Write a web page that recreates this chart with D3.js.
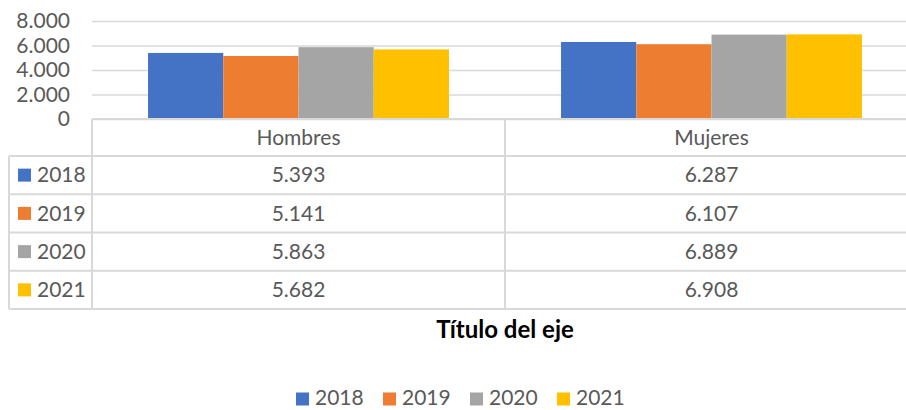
<!DOCTYPE html>
<html>
<head>
<meta charset="utf-8">
<script src="https://cdn.jsdelivr.net/npm/d3@7"></script>
<style>
	body { margin: 0; background: #fff; }
	text { font-family: Lato, "Open Sans", sans-serif; fill: #595959; }
</style>
</head>
<body>
<div id="chart"></div>
<script>
const categories = ["Hombres", "Mujeres"];
const years = ["2018", "2019", "2020", "2021"];
const values = {
	"2018": [5393, 6287],
	"2019": [5141, 6107],
	"2020": [5863, 6889],
	"2021": [5682, 6908],
};
const y_ticks = [0, 2000, 4000, 6000, 8000];
const axis_title = "Título del eje";

const width = 906;
const height = 410;
const colors = ["#4472c4", "#ed7d31", "#a5a5a5", "#ffc000"];
const grid_color = "#d9d9d9";
const font_size = 21;

const es = d3.formatLocale({ decimal: ",", thousands: ".", grouping: [3], currency: ["", "€"] });
const fmt = es.format(",d");

const svg = d3
	.select("#chart")
	.append("svg")
	.attr("width", width)
	.attr("height", height);

// plot area
const plot = { left: 92, right: 918, top: 21, bottom: 119 };
const table_left = 9;
const table_bottom = 309;

const x0 = d3.scaleBand().domain(categories).range([plot.left, plot.right]);
const x1 = d3
	.scaleBand()
	.domain(years)
	.range([0, x0.bandwidth()])
	.paddingInner(0)
	.paddingOuter(0.745);
const y = d3.scaleLinear().domain([0, 8000]).range([plot.bottom, plot.top]);
const color = d3.scaleOrdinal().domain(years).range(colors);

// gridlines + y labels
const yAxis = svg
	.append("g")
	.attr("transform", `translate(${plot.left}, 0)`)
	.call(
		d3
			.axisLeft(y)
			.tickValues(y_ticks)
			.tickSize(-(width - plot.left))
			.tickPadding(22)
			.tickFormat(fmt)
	);
yAxis.select(".domain").remove();
yAxis.selectAll(".tick line").attr("stroke", grid_color).attr("stroke-width", 1.5);
yAxis
	.selectAll(".tick text")
	.attr("font-family", null)
	.style("font-size", font_size + "px")
	.style("fill", "#595959");

// bars
const bars = [];
years.forEach((yr) => {
	categories.forEach((c, i) => {
		bars.push({ year: yr, cat: c, value: values[yr][i] });
	});
});

svg
	.selectAll(".bar")
	.data(bars)
	.join("rect")
	.attr("class", "bar")
	.attr("x", (d) => x0(d.cat) + x1(d.year))
	.attr("y", (d) => y(d.value))
	.attr("width", x1.bandwidth())
	.attr("height", (d) => y(0) - y(d.value))
	.attr("fill", (d) => color(d.year));

// data table
const rows = d3.scaleBand().domain(years).range([156, table_bottom]);
const table = svg.append("g").attr("stroke", grid_color).attr("stroke-width", 2);

table
	.append("line")
	.attr("x1", plot.left)
	.attr("x2", width)
	.attr("y1", y(0))
	.attr("y2", y(0));
years.forEach((yr) => {
	table
		.append("line")
		.attr("x1", table_left)
		.attr("x2", width)
		.attr("y1", rows(yr))
		.attr("y2", rows(yr));
});
table
	.append("line")
	.attr("x1", table_left)
	.attr("x2", width)
	.attr("y1", table_bottom)
	.attr("y2", table_bottom);
table
	.append("line")
	.attr("x1", table_left)
	.attr("x2", table_left)
	.attr("y1", rows(years[0]))
	.attr("y2", table_bottom);
categories.forEach((c) => {
	table
		.append("line")
		.attr("x1", x0(c))
		.attr("x2", x0(c))
		.attr("y1", y(0))
		.attr("y2", table_bottom);
});

// header row
svg
	.selectAll(".cat_label")
	.data(categories)
	.join("text")
	.attr("class", "cat_label")
	.attr("x", (d) => x0(d) + x0.bandwidth() / 2)
	.attr("y", (y(0) + rows(years[0])) / 2)
	.attr("dy", "0.35em")
	.attr("text-anchor", "middle")
	.style("font-size", font_size + "px")
	.text((d) => d);

// row labels with keys
years.forEach((yr, j) => {
	const cy = rows(yr) + rows.bandwidth() / 2;
	svg
		.append("rect")
		.attr("x", 18)
		.attr("y", cy - 6.5)
		.attr("width", 13)
		.attr("height", 13)
		.attr("fill", color(yr));
	svg
		.append("text")
		.attr("x", 37)
		.attr("y", cy)
		.attr("dy", "0.35em")
		.style("font-size", font_size + "px")
		.text(yr);
	categories.forEach((c, i) => {
		svg
			.append("text")
			.attr("x", x0(c) + x0.bandwidth() / 2)
			.attr("y", cy)
			.attr("dy", "0.35em")
			.attr("text-anchor", "middle")
			.style("font-size", font_size + "px")
			.text(fmt(values[yr][i]));
	});
});

// axis title
svg
	.append("text")
	.attr("x", 505)
	.attr("y", 338)
	.attr("text-anchor", "middle")
	.style("font-size", "24px")
	.style("font-weight", "bold")
	.style("fill", "#000")
	.text(axis_title);

// legend
const legend = svg
	.selectAll(".legend")
	.data(years)
	.join("g")
	.attr("class", "legend")
	.attr("transform", (d, i) => `translate(${296 + i * 87}, 398)`);
legend
	.append("rect")
	.attr("y", -5.5)
	.attr("width", 13)
	.attr("height", 13)
	.attr("fill", (d) => color(d));
legend
	.append("text")
	.attr("x", 19)
	.attr("dy", "0.35em")
	.style("font-size", font_size + "px")
	.text((d) => d);
</script>
</body>
</html>
